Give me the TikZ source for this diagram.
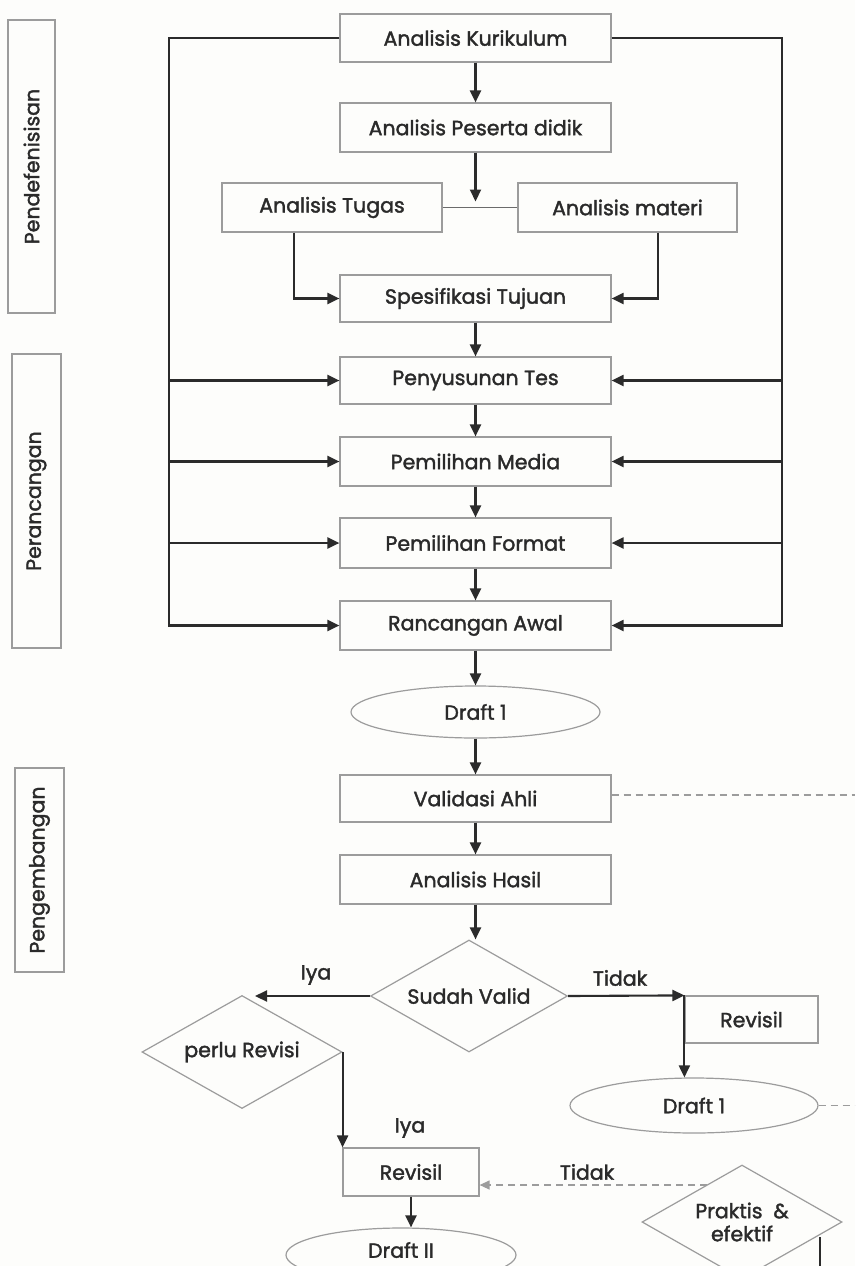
\documentclass[tikz,border=0pt]{standalone}
\usepackage{fontspec}
\setmainfont[FakeBold=1.8]{Poppins}
\usetikzlibrary{arrows.meta,shapes.geometric}
\definecolor{bord}{HTML}{9C9C9C}
\definecolor{ink}{HTML}{2B2B2B}
\definecolor{txt}{HTML}{2A2A2A}
\definecolor{bg}{HTML}{FDFDFB}
\tikzset{
  base/.style={font=\fontsize{20.5}{23}\selectfont, text=txt},
  stepbox/.style={base, draw=bord, line width=1.2pt, rectangle, inner sep=0pt},
  oval/.style={base, draw=bord, line width=1.2pt, ellipse, inner sep=0pt},
  dia/.style={base, draw=bord, line width=1.2pt, diamond, aspect=1.76, inner sep=0pt, align=center},
  phase/.style={base, draw=bord, line width=1.2pt, rectangle, rotate=90, inner sep=0pt},
  arr/.style={draw=ink, line width=2.1pt, -{Triangle[length=12pt,width=11pt]}},
  ln/.style={draw=ink, line width=2.1pt},
  thinln/.style={draw=ink!70, line width=1pt},
  dashln/.style={draw=bord, line width=1.3pt, dash pattern=on 7pt off 5pt},
  lbl/.style={base}
}
\begin{document}
\begin{tikzpicture}[x=1pt,y=-1pt]
\useasboundingbox (0,0) rectangle (855,1266);
\clip (0,0) rectangle (855,1266);
\fill[bg] (0,0) rectangle (855,1266);

% phase labels
\node[phase, minimum width=293pt, minimum height=47pt] (ph1) at (31.5,166.5) {Pendefenisisan};
\node[phase, minimum width=294pt, minimum height=49pt] (ph2) at (36.5,501) {Perancangan};
\node[phase, minimum width=204pt, minimum height=49pt] (ph3) at (39.5,870) {Pengembangan};

% main boxes
\node[stepbox, minimum width=271pt, minimum height=48pt] (ak) at (475.5,38) {Analisis Kurikulum};
\node[stepbox, minimum width=271pt, minimum height=49pt] (ap) at (475.5,127.5) {Analisis Peserta didik};
\node[stepbox, minimum width=220pt, minimum height=49pt] (at) at (332,207.5) {Analisis Tugas};
\node[stepbox, minimum width=219pt, minimum height=49pt] (am) at (627.5,207.5) {Analisis materi};
\node[stepbox, minimum width=271pt, minimum height=47pt] (st) at (475.5,298.5) {Spesifikasi Tujuan};
\node[stepbox, minimum width=271pt, minimum height=47pt] (pt) at (475.5,380.5) {Penyusunan Tes};
\node[stepbox, minimum width=271pt, minimum height=49pt] (pm) at (475.5,461.5) {Pemilihan Media};
\node[stepbox, minimum width=271pt, minimum height=50pt] (pf) at (475.5,543) {Pemilihan Format};
\node[stepbox, minimum width=271pt, minimum height=49pt] (ra) at (475.5,625.5) {Rancangan Awal};
\node[oval, minimum width=249pt, minimum height=52pt] (d1) at (475.5,712) {Draft 1};
\node[stepbox, minimum width=271pt, minimum height=47pt] (va) at (475.5,798.5) {Validasi Ahli};
\node[stepbox, minimum width=271pt, minimum height=49pt] (ah) at (475.5,879.5) {Analisis Hasil};
\node[dia, minimum width=197pt, minimum height=112pt] (sv) at (469,996) {Sudah Valid};
\node[dia, minimum width=200pt, minimum height=113pt] (pr) at (242,1052) {perlu Revisi};
\node[stepbox, minimum width=136pt, minimum height=48pt] (rv1) at (411,1172) {Revisil};
\node[oval, minimum width=230pt, minimum height=54pt] (d2) at (401,1255) {};
\node[base] (d2t) at (401,1250) {Draft II};
\node[stepbox, minimum width=133pt, minimum height=47pt] (rv2) at (751.5,1019.5) {Revisil};
\node[oval, minimum width=248pt, minimum height=55pt] (d1b) at (694,1105.5) {Draft 1};
\node[dia, minimum width=200pt, minimum height=114pt] (pe) at (742,1222) {};
\node[base, align=center] (pet) at (742,1222) {Praktis~~\&\\efektif};

% helper coordinates
\coordinate (lb) at (169,0);
\coordinate (rb) at (782,0);
\coordinate (j) at (475.5,207.5);
\coordinate (vaend) at (855,795);
\coordinate (d1end) at (855,1105.5);
\coordinate (pin) at (707,1185);
\coordinate (pout) at (820,1237);
\coordinate (pbot) at (820,1270);

% top chain
\draw[arr] (ak.south) -- (ap.north);
\draw[arr, shorten >=6pt] (ap.south) -- (j);
\draw[thinln] (at.east) -- (am.west);
\draw[arr] ([xshift=-38pt]at.south) |- (st.west);
\draw[arr] ([xshift=30.5pt]am.south) |- (st.east);
\draw[arr] (st.south) -- (pt.north);
\draw[arr] (pt.south) -- (pm.north);
\draw[arr] (pm.south) -- (pf.north);
\draw[arr] (pf.south) -- (ra.north);
\draw[arr] (ra.south) -- (d1.north);
\draw[arr] (d1.south) -- (va.north);
\draw[arr] (va.south) -- (ah.north);
\draw[arr] (ah.south) -- (ah.south |- sv.north);

% left bus
\draw[arr] (ak.west) -| (ra.west -| lb) -- (ra.west);
\draw[arr] (pt.west -| lb) -- (pt.west);
\draw[arr] (pm.west -| lb) -- (pm.west);
\draw[arr] (pf.west -| lb) -- (pf.west);
% right bus
\draw[arr] (ak.east) -| (ra.east -| rb) -- (ra.east);
\draw[arr] (pt.east -| rb) -- (pt.east);
\draw[arr] (pm.east -| rb) -- (pm.east);
\draw[arr] (pf.east -| rb) -- (pf.east);

% decision branches
\draw[arr] (sv.west) -- ([xshift=13pt]sv.west -| pr.north);
\node[lbl] (iya1) at (316,975) {Iya};
\draw[arr] (sv.east) -- (rv2.north west);
\node[lbl] (tidak1) at (620,978) {Tidak};
\draw[arr] (rv2.north west) -- (rv2.north west |- d1b.north);
\draw[arr] (pr.east) -- (pr.east |- rv1.north);
\node[lbl] (iya2) at (410,1128) {Iya};
\draw[arr] (rv1.south) -- (rv1.south |- d2.north);
\draw[dashln, -{Triangle[length=10pt,width=9pt]}] (pin) -- (pin -| rv1.east);
\node[lbl] (tidak2) at (587,1172) {Tidak};
\draw[ln] (pout) -- (pbot);

% dashed exits
\draw[dashln] (va.east |- vaend) -- (vaend);
\draw[dashln] (d1b.east) -- (d1end);
\end{tikzpicture}
\end{document}
